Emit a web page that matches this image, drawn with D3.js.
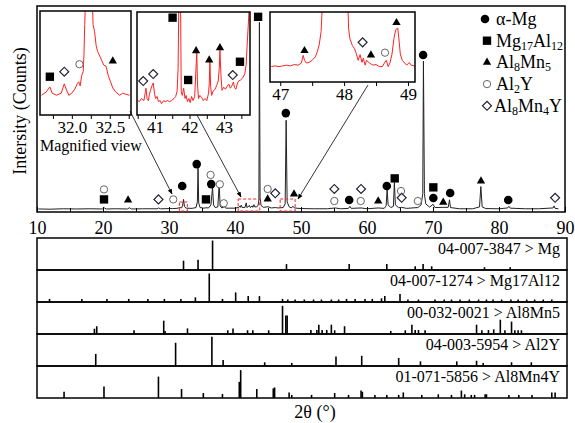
<!DOCTYPE html>
<html lang="en">
<head>
<meta charset="UTF-8">
<title>XRD pattern with reference cards</title>
<script src="https://cdn.jsdelivr.net/npm/d3@7"></script>
<style>
  body { margin: 0; background: #fff; }
  svg text { font-family: "Liberation Serif", "Times New Roman", serif; }
</style>
</head>
<body>
<svg id="chart" width="575" height="423"></svg>
<script>
const SERIF = '"Liberation Serif", "Times New Roman", serif';

// ---- measured pattern: [2theta, counts] ----
const pattern = [
  [10.2,0.5],[12,0.4],[14,0.6],[16,0.5],[18,0.6],[19.9,0.5],[20.2,1.0],[20.5,0.5],[22,0.6],
  [23.7,0.5],[24.0,1.1],[24.3,0.5],[26,0.6],[28.2,0.6],[28.4,1.0],[28.7,0.6],[30.5,0.7],
  [31.2,0.8],[31.7,1.2],[31.9,1.0],[32.05,2],[32.2,5.2],[32.35,1.6],[32.6,0.9],[33.5,0.8],
  [34.1,1.2],[34.3,4],[34.4,20.5],[34.5,3.5],[34.7,1.2],[35.3,0.9],[35.6,1.1],[36.0,1.0],
  [36.35,2.5],[36.6,11],[36.75,2.5],[37.0,1.2],[37.4,1.5],[37.6,12.5],[37.75,2],[38.0,1.0],
  [38.4,1.6],[38.6,0.9],[40.0,0.9],[40.6,1.3],[40.75,2],[40.85,1.3],[40.95,2.4],[41.1,1.2],
  [41.5,1.2],[41.7,3.5],[41.8,1.2],[42.2,2.2],[42.3,1.2],[42.6,2],[42.7,1.3],[42.88,2.6],
  [43.0,1.5],[43.3,1.6],[43.5,2.2],[43.62,5],[43.7,92],[43.8,6],[43.95,2.2],[44.3,1.3],
  [45.0,1.6],[45.5,1.0],[46.1,1.2],[46.5,1.0],[47.3,1.2],[47.6,3],[47.75,44],[47.9,4],
  [48.2,1.6],[48.5,1.0],[48.8,1.8],[49.0,1.0],[50,0.7],[52,0.6],[54,0.6],[55.2,1.0],[56,0.6],
  [57.2,0.8],[57.4,1.8],[57.6,0.8],[59.1,1.0],[60,0.6],[61.7,1.0],[62.6,0.8],[62.9,2],
  [63.05,10],[63.2,2.5],[63.6,1.2],[64.0,1.8],[64.15,13.5],[64.3,2.5],[64.8,1.1],[65.2,1.3],
  [66,0.8],[67.7,1.2],[68.2,2.5],[68.45,8],[68.55,73],[68.7,8],[68.9,3],[69.5,1.4],[70.0,2.8],
  [70.3,1.2],[71.5,1.3],[72.3,1.3],[72.5,5],[72.65,1.2],[74,0.6],[76,0.6],[77.05,1.5],
  [77.25,11.5],[77.45,1.5],[78,0.7],[80,0.6],[81.3,1.0],[81.5,1.8],[81.7,0.9],[84,0.6],
  [86,0.6],[88.2,1.0],[88.35,2.0],[88.5,0.8],[89.0,0.6]
];

// phase markers on the main pattern: [2theta, counts level]
const markMg       = [[32.0,11.8],[34.2,22.5],[36.4,12.7],[47.7,47.5],[57.3,4.9],[63.0,11.8],[68.5,76],[70.05,5.9],[72.6,8.3],[81.4,4.9]];
const markMg17Al12 = [[20.15,5.2],[35.6,5.2],[43.5,94.7],[64.2,15.5],[70.05,11.1]];
const markAl8Mn5   = [[23.8,4.9],[44.95,5.4],[48.94,7.8],[61.7,4.4],[71.55,3.8],[77.27,14.2]];
const markAl2Y     = [[20.15,10.1],[30.65,5.2],[36.3,17.2],[37.7,12.6],[38.3,3.3],[44.95,10.3],[55.05,4.4],[59.05,4.4],[65.15,9.3],[67.7,4.4]];
const markAl8Mn4Y  = [[28.4,5.2],[46.1,8.2],[55.05,10.3],[59.1,10.3],[65.25,6.0],[88.5,6.0]];

// magnified views: [2theta, relative intensity]
const inset1Curve = [
  [31.60,19],[31.66,22],[31.71,27],[31.74,21],[31.80,19],[31.86,21],[31.90,30],[31.93,24],
  [31.96,19],[32.00,21],[32.04,25],[32.07,30],[32.09,32],[32.11,28],[32.13,38],[32.15,42],
  [32.16,58],[32.17,87],[32.18,110],[32.27,110],[32.28,87],[32.30,80],[32.32,67],[32.34,61],
  [32.36,58],[32.39,53],[32.42,48],[32.45,47],[32.46,44],[32.48,38],[32.51,32],[32.54,26],
  [32.58,22],[32.63,19],[32.67,21],[32.71,20],[32.76,19]
];
const inset2Curve = [
  [40.50,14],[40.55,13],[40.61,16],[40.68,14],[40.72,22],[40.74,26],[40.77,16],[40.81,14],
  [40.84,20],[40.87,24],[40.92,29],[40.95,31],[40.99,20],[41.02,16],[41.06,18],[41.10,13],
  [41.15,14],[41.19,11],[41.25,14],[41.30,13],[41.36,14],[41.42,13],[41.48,14],[41.55,16],
  [41.60,18],[41.64,23],[41.67,45],[41.69,110],[41.74,110],[41.76,23],[41.79,19],[41.83,26],
  [41.87,16],[41.90,19],[41.94,13],[41.98,16],[42.02,12],[42.06,18],[42.10,14],[42.15,18],
  [42.18,40],[42.21,61],[42.23,30],[42.26,16],[42.30,19],[42.35,17],[42.40,14],[42.45,16],
  [42.50,14],[42.55,21],[42.57,30],[42.59,53],[42.61,28],[42.64,19],[42.68,23],[42.74,25],
  [42.79,29],[42.83,33],[42.86,45],[42.88,63],[42.91,38],[42.94,24],[42.99,27],[43.04,25],
  [43.09,28],[43.14,30],[43.18,26],[43.22,28],[43.27,32],[43.30,27],[43.34,25],[43.38,30],
  [43.42,33],[43.48,34],[43.54,36],[43.60,40],[43.64,49],[43.67,70],[43.70,87],[43.73,110]
];
const inset3Curve = [
  [46.86,22],[46.92,23],[46.98,22],[47.04,23],[47.10,24],[47.16,23],[47.22,25],[47.28,24],
  [47.33,27],[47.36,38],[47.38,31],[47.41,27],[47.45,28],[47.50,31],[47.55,36],[47.58,43],
  [47.61,53],[47.64,72],[47.66,110],[48.06,110],[48.07,77],[48.09,62],[48.13,52],[48.16,48],
  [48.19,41],[48.22,31],[48.25,39],[48.28,28],[48.30,34],[48.33,24],[48.35,31],[48.40,27],
  [48.45,24],[48.50,25],[48.55,22],[48.60,22],[48.63,27],[48.66,31],[48.69,22],[48.72,28],
  [48.75,40],[48.78,62],[48.81,75],[48.84,77],[48.86,60],[48.88,40],[48.91,31],[48.95,27],
  [48.98,24],[49.02,28],[49.05,24],[49.10,23]
];
// [phase, 2theta, level]
const inset1Marks = [["mg17",31.71,36.8],["al8mn4y",31.90,41.6],["al2y",32.10,48.8],["al8mn5",32.54,51.9]];
const inset2Marks = [["al8mn4y",40.66,33],["al8mn4y",40.95,39.8],["mg17",41.51,94.5],["mg17",41.96,34],
  ["al8mn5",42.19,62.4],["al8mn5",42.57,53.4],["al8mn5",42.88,65.3],["al8mn4y",43.25,38.8],["mg17",43.46,51.7]];
const inset3Marks = [["al8mn5",47.38,44.7],["al8mn4y",48.29,56.7],["al8mn5",48.42,38.6],["al2y",48.64,41.9],["al8mn5",48.82,84.7]];

// reference cards: [2theta, relative intensity %]
const refMg = [[32.2,30],[34.4,33],[36.6,95],[47.8,19],[57.3,19],[63.0,19],[67.3,12],[68.5,19],[69.8,12],[77.8,9],[81.7,9]];
const refMg17Al12 = [[11.9,10],[16.8,10],[20.6,10],[23.9,10],[26.8,10],[29.3,10],[31.8,10],[34.0,15],[36.1,92],
  [38.1,10],[40.1,31],[42.0,19],[43.7,19],[47.2,10],[48.0,8],[49.1,8],[50.5,8],[51.9,8],[53.1,8],[54.6,8],
  [55.7,8],[56.9,10],[58.2,10],[59.7,10],[60.8,10],[62.2,12],[62.7,19],[65.0,26],[66.2,8],[67.8,8],[70.3,8],
  [71.7,8],[72.8,8],[74.1,8],[75.5,8],[76.9,8],[78.1,8],[79.1,8],[80.4,8],[81.8,8],[82.9,8],[84.2,8],
  [85.4,8],[86.7,8],[88.0,8]];
const refAl8Mn5 = [[18.7,17],[19.05,25],[24.7,12],[29.2,43],[29.4,10],[32.8,18],[38.9,12],[39.7,18],[41.9,12],
  [42.7,12],[45.1,12],[47.2,91],[47.7,60],[47.9,60],[51.5,13],[52.4,13],[52.7,30],[53.2,13],[53.9,13],
  [54.6,30],[55.1,12],[56.6,25],[63.6,10],[65.8,12],[66.8,30],[67.3,13],[67.8,13],[68.8,12],[76.6,30],
  [77.4,12],[78.4,13],[79.2,15],[80.2,46],[80.9,12],[81.9,40],[82.4,12],[82.9,12],[83.4,12]];
const refAl2Y = [[18.9,39],[31.0,75],[36.5,94],[38.2,19],[44.5,12],[48.6,10],[55.3,31],[59.2,33],[64.8,26],
  [68.1,15],[73.6,15],[76.6,17],[77.6,10],[81.9,12],[84.9,12]];
const refAl8Mn4Y = [[14.1,20],[20.15,37],[28.4,69],[31.9,29],[35.2,16],[38.1,13],[40.65,52],[40.86,90],
  [43.3,29],[45.8,31],[46.0,34],[48.2,18],[48.6,10],[51.6,10],[55.1,16],[57.2,10],[59.1,24],[59.3,20],
  [61.2,10],[63.0,10],[64.8,10],[65.5,18],[68.3,10],[70.8,12],[72.8,10],[74.3,24],[74.8,12],[75.8,10],
  [76.3,10],[77.9,12],[78.1,12],[81.5,10],[83.0,10],[85.0,10],[88.0,18],[88.5,18]];
const refCards = ["04-007-3847 > Mg","04-007-1274 > Mg17Al12","00-032-0021 > Al8Mn5","04-003-5954 > Al2Y","01-071-5856 > Al8Mn4Y"];

// legend: text parts, second item true = subscript
const legendKinds = ["mg","mg17","al8mn5","al2y","al8mn4y"];
const legendLabels = [
  [["α-Mg",false]],
  [["Mg",false],["17",true],["Al",false],["12",true]],
  [["Al",false],["8",true],["Mn",false],["5",true]],
  [["Al",false],["2",true],["Y",false]],
  [["Al",false],["8",true],["Mn",false],["4",true],["Y",false]]
];
const xTicks = [10,20,30,40,50,60,70,80,90];
const xMinor = [15,25,35,45,55,65,75,85];

const svg = d3.select("#chart");
const x = d3.scaleLinear().domain([10, 90]).range([37, 565]);
const y = d3.scaleLinear().domain([0, 100]).range([210, 6]);

// arrowhead
svg.append("defs").append("marker")
  .attr("id", "arrow").attr("viewBox", "0 0 10 10").attr("refX", 9).attr("refY", 5)
  .attr("markerWidth", 7).attr("markerHeight", 7).attr("orient", "auto")
  .append("path").attr("d", "M0,1 L10,5 L0,9 Z").attr("fill", "#000");

function drawMark(g, kind, cx, cy) {
  let sym;
  if (kind === "mg") sym = g.append("path").attr("d", d3.symbol(d3.symbolCircle, 58)()).attr("fill", "#000");
  else if (kind === "mg17") sym = g.append("path").attr("d", d3.symbol(d3.symbolSquare, 70)()).attr("fill", "#000");
  else if (kind === "al8mn5") sym = g.append("path").attr("d", d3.symbol(d3.symbolTriangle, 30)()).attr("fill", "#000");
  else if (kind === "al2y") sym = g.append("path").attr("d", d3.symbol(d3.symbolCircle, 42)())
    .attr("fill", "#fff").attr("stroke", "#666").attr("stroke-width", 1);
  else sym = g.append("path").attr("d", d3.symbol(d3.symbolSquare, 40)())
    .attr("fill", "#fff").attr("stroke", "#223").attr("stroke-width", 1.2);
  const rot = kind === "al8mn4y" ? " rotate(45)" : "";
  sym.attr("transform", `translate(${cx},${cy})${rot}`);
}

// ---------- main panel ----------
svg.append("rect").attr("x", 37).attr("y", 6).attr("width", 528).attr("height", 206)
  .attr("fill", "#fff").attr("stroke", "#000").attr("stroke-width", 1.5);

svg.append("path").datum(pattern)
  .attr("d", d3.line().x(d => x(d[0])).y(d => y(d[1])))
  .attr("fill", "none").attr("stroke", "#222").attr("stroke-width", 1);

const axisG = svg.append("g").attr("transform", "translate(0,212)")
  .call(d3.axisBottom(x).tickValues(xTicks).tickSize(-5).tickPadding(9).tickFormat(d3.format("d")));
const minorG = svg.append("g").attr("transform", "translate(0,212)")
  .call(d3.axisBottom(x).tickValues(xMinor).tickSize(-4).tickFormat(""));
[axisG, minorG].forEach(g => {
  g.selectAll(".domain").remove();
  g.selectAll("line").attr("stroke", "#000");
  g.attr("font-family", SERIF);
});
axisG.selectAll("text").attr("font-size", 18).attr("fill", "#000");

const markG = svg.append("g");
[[markMg,"mg"],[markMg17Al12,"mg17"],[markAl8Mn5,"al8mn5"],[markAl2Y,"al2y"],[markAl8Mn4Y,"al8mn4y"]]
  .forEach(([arr, kind]) => arr.forEach(d => drawMark(markG, kind, x(d[0]), y(d[1]))));

// legend
legendKinds.forEach((kind, i) => {
  const by = 25 + i * 21.7;
  drawMark(svg, kind, kind === "mg" ? 485 : 487, by - 6);
  const t = svg.append("text").attr("x", kind === "al8mn4y" ? 494 : 496).attr("y", by)
    .attr("font-size", 18).attr("fill", "#000");
  let sub = false;
  legendLabels[i].forEach(([s, isSub]) => {
    const dy = isSub === sub ? 0 : (isSub ? 3 : -3);
    t.append("tspan").attr("dy", dy).attr("font-size", isSub ? 12 : 18).text(s);
    sub = isSub;
  });
});

// y label
svg.append("text").attr("transform", "translate(26,111) rotate(-90)")
  .attr("text-anchor", "middle").attr("font-size", 18).text("Intersity (Counts)");

// ---------- magnified views ----------
const insets = [
  { dom: [31.58, 32.78], x0: 40, x1: 131, y0: 11, y1: 115, ticks: [31.75, 32.0, 32.25, 32.5, 32.75],
    labels: [32.0, 32.5], fmt: d3.format(".1f"), curve: inset1Curve, marks: inset1Marks,
    boxTop: 202, arrow: [130, 111, 172, 194] },
  { dom: [40.48, 43.75], x0: 137, x1: 250, y0: 12, y1: 115, ticks: [40.5, 41, 41.5, 42, 42.5, 43, 43.5],
    labels: [41, 42, 43], fmt: d3.format("d"), curve: inset2Curve, marks: inset2Marks,
    boxTop: 199, arrow: [197, 115, 241, 197] },
  { dom: [46.84, 49.11], x0: 270, x1: 415, y0: 12, y1: 82, ticks: [47, 47.5, 48, 48.5, 49],
    labels: [47, 48, 49], fmt: d3.format("d"), curve: inset3Curve, marks: inset3Marks,
    boxTop: 199, arrow: [368, 85, 298, 199] }
];

insets.forEach((c, k) => {
  const ix = d3.scaleLinear().domain(c.dom).range([c.x0, c.x1]);
  const iy = d3.scaleLinear().domain([0, 100]).range([c.y1, c.y0]);
  const g = svg.append("g");
  g.append("clipPath").attr("id", "clip" + k).append("rect")
    .attr("x", c.x0).attr("y", c.y0).attr("width", c.x1 - c.x0).attr("height", c.y1 - c.y0);
  g.append("rect").attr("x", c.x0).attr("y", c.y0).attr("width", c.x1 - c.x0).attr("height", c.y1 - c.y0)
    .attr("fill", "#fff");
  g.append("path").datum(c.curve).attr("clip-path", `url(#clip${k})`)
    .attr("d", d3.line().x(d => ix(d[0])).y(d => iy(d[1])))
    .attr("fill", "none").attr("stroke", "#f22").attr("stroke-width", 1);
  c.marks.forEach(m => drawMark(g, m[0], ix(m[1]), iy(m[2])));
  g.append("rect").attr("x", c.x0).attr("y", c.y0).attr("width", c.x1 - c.x0).attr("height", c.y1 - c.y0)
    .attr("fill", "none").attr("stroke", "#000").attr("stroke-width", 1.5);
  const ax = g.append("g").attr("transform", `translate(0,${c.y1})`)
    .call(d3.axisBottom(ix).tickValues(c.ticks).tickSize(4).tickPadding(2)
      .tickFormat(d => c.labels.includes(d) ? c.fmt(d) : ""));
  ax.attr("font-family", SERIF);
  ax.select(".domain").remove();
  ax.selectAll("line").attr("stroke", "#000");
  ax.selectAll("text").attr("font-size", 17).attr("fill", "#000");

  // dashed region on the main pattern
  svg.append("rect").attr("x", x(c.dom[0])).attr("y", c.boxTop)
    .attr("width", x(c.dom[1]) - x(c.dom[0])).attr("height", 211 - c.boxTop)
    .attr("fill", "none").attr("stroke", "#f22").attr("stroke-width", 1).attr("stroke-dasharray", "3,2");
  svg.append("line").attr("x1", c.arrow[0]).attr("y1", c.arrow[1]).attr("x2", c.arrow[2]).attr("y2", c.arrow[3])
    .attr("stroke", "#000").attr("stroke-width", 0.8).attr("marker-end", "url(#arrow)");
});

svg.append("text").attr("x", 40).attr("y", 151).attr("font-size", 16).text("Magnified view");

// ---------- reference cards ----------
const refs = [refMg, refMg17Al12, refAl8Mn5, refAl2Y, refAl8Mn4Y];
refs.forEach((sticks, i) => {
  const top = 238 + i * 32, bottom = top + 32;
  const h = d3.scaleLinear().domain([0, 100]).range([bottom, top + 1]);
  const g = svg.append("g");
  g.selectAll("line").data(sticks).join("line")
    .attr("x1", d => x(d[0])).attr("x2", d => x(d[0]))
    .attr("y1", bottom).attr("y2", d => h(d[1]))
    .attr("stroke", "#000").attr("stroke-width", 1.6);
  g.append("rect").attr("x", 37).attr("y", top).attr("width", 530).attr("height", 32)
    .attr("fill", "none").attr("stroke", "#000").attr("stroke-width", 1.5);
  g.append("text").attr("x", 560).attr("y", top + 16).attr("text-anchor", "end")
    .attr("font-size", 16).text(refCards[i]);
});

svg.append("text").attr("x", 315).attr("y", 418).attr("text-anchor", "middle")
  .attr("font-size", 18).text("2θ (°)");
</script>
</body>
</html>
